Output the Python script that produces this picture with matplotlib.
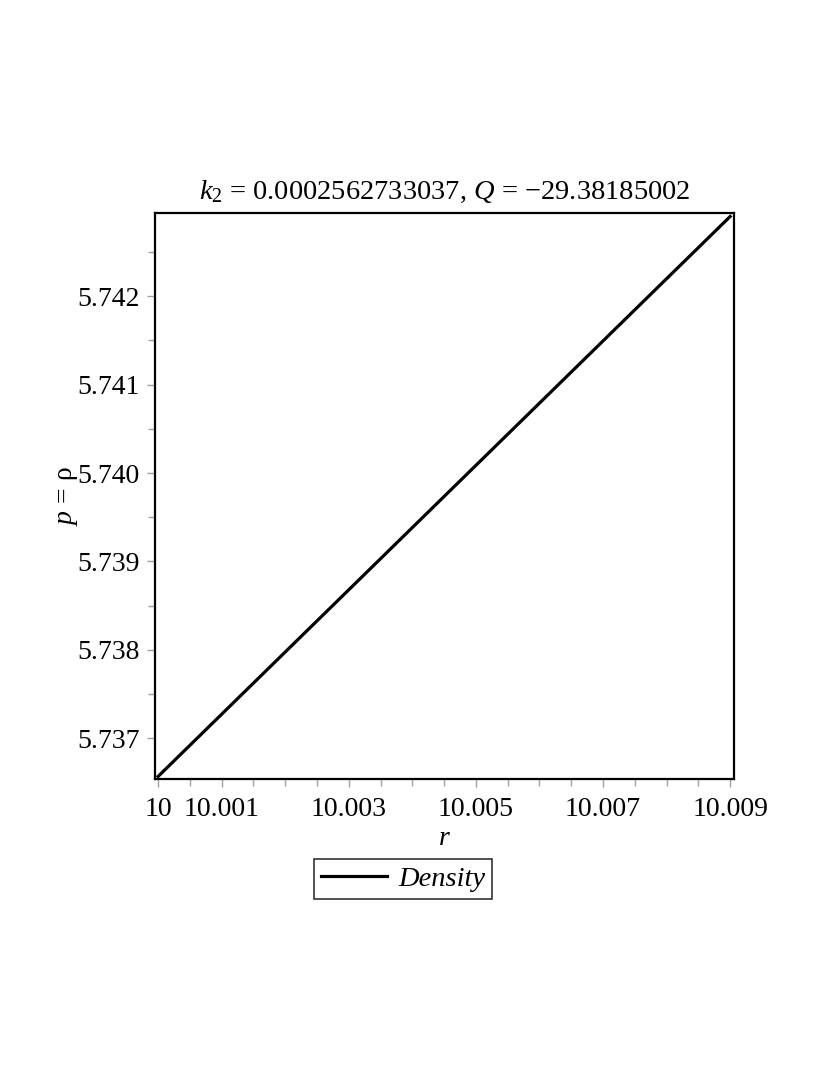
import numpy as np
import matplotlib
matplotlib.use("Agg")
import matplotlib.pyplot as plt
from matplotlib.ticker import FixedLocator, FixedFormatter

plt.rcParams['font.family'] = ['Liberation Serif', 'DejaVu Serif']
plt.rcParams['mathtext.fontset'] = 'custom'
plt.rcParams['mathtext.rm'] = 'Liberation Serif'
plt.rcParams['mathtext.it'] = 'Liberation Serif:italic'

# data
r_vals = [10.000, 10.003, 10.006, 10.009]
p_vals = [5.73657, 5.73868, 5.74079, 5.74290]

x_major = [10.0, 10.001, 10.003, 10.005, 10.007, 10.009]
x_labels = ["10", "10.001", "10.003", "10.005", "10.007", "10.009"]
x_minor = [10.0005, 10.0015, 10.002, 10.0025, 10.0035, 10.004, 10.0045,
           10.0055, 10.006, 10.0065, 10.0075, 10.008, 10.0085]
y_major = [5.737, 5.738, 5.739, 5.740, 5.741, 5.742]
y_labels = ["5.737", "5.738", "5.739", "5.740", "5.741", "5.742"]
y_minor = [5.7375, 5.7385, 5.7395, 5.7405, 5.7415, 5.7425]

title = r'$k_2$ = 0.0002562733037, $Q$ = −29.38185002'

fig = plt.figure(figsize=(8.3, 10.75), dpi=100)
ax = fig.add_axes([0.1867, 0.2753, 0.6976, 0.5266])

ax.plot(r_vals, p_vals, color='black', lw=2.3, label='Density')

ax.set_xlim(9.99995, 10.00906)
ax.set_ylim(5.73654, 5.74294)

ax.xaxis.set_major_locator(FixedLocator(x_major))
ax.xaxis.set_major_formatter(FixedFormatter(x_labels))
ax.xaxis.set_minor_locator(FixedLocator(x_minor))
ax.yaxis.set_major_locator(FixedLocator(y_major))
ax.yaxis.set_major_formatter(FixedFormatter(y_labels))
ax.yaxis.set_minor_locator(FixedLocator(y_minor))

ax.tick_params(which='both', direction='out', color='#a0a0a0', width=1,
               labelsize=20, labelcolor='black')
ax.tick_params(which='major', length=6)
ax.tick_params(which='minor', length=5)
ax.tick_params(axis='x', which='major', pad=7)
ax.tick_params(axis='y', which='major', pad=5)

for s in ax.spines.values():
    s.set_linewidth(1.6)
    s.set_color('black')

ax.set_title(title, fontsize=20.5, pad=10)
ax.set_xlabel(r'$r$', fontsize=20, labelpad=3)
ax.set_ylabel(r'$p$ = ρ', fontsize=20, labelpad=-2)

leg = fig.legend(loc='center', bbox_to_anchor=(0.4855, 0.1823),
                 fontsize=20.5, frameon=True, fancybox=False,
                 handlelength=2.3, handletextpad=0.4, borderpad=0.25,
                 borderaxespad=0)
leg.get_frame().set_edgecolor('black')
leg.get_frame().set_linewidth(1.2)
for t in leg.get_texts():
    t.set_fontstyle('italic')

fig.savefig('out.png', dpi=100, facecolor='white')
